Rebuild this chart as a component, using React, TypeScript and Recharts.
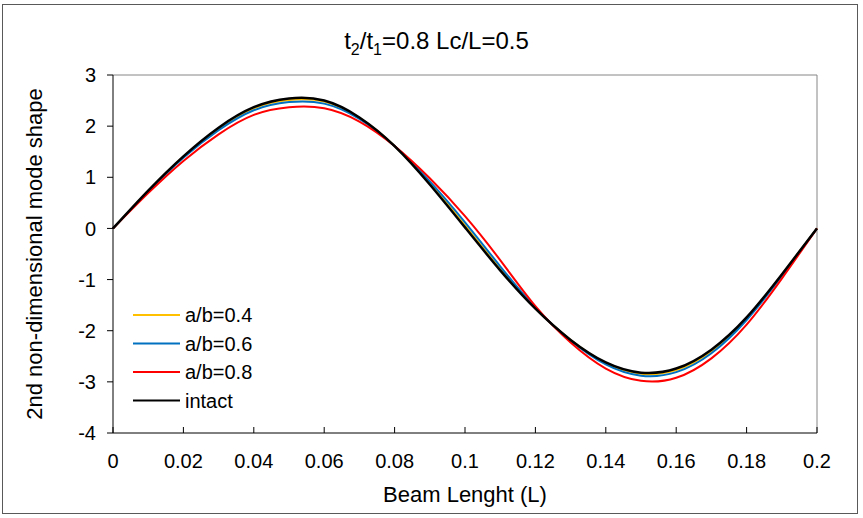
import React from "react";
import { LineChart, Line, XAxis, YAxis, ReferenceLine } from "recharts";

const beamX = [0, 0.01, 0.02, 0.03, 0.04, 0.05, 0.06, 0.07, 0.08, 0.09, 0.1, 0.11, 0.12, 0.13, 0.14, 0.15, 0.16, 0.17, 0.18, 0.19, 0.2];
const ab04 = [0, 0.73, 1.4, 1.95, 2.35, 2.51, 2.48, 2.16, 1.61, 0.89, 0.06, -0.79, -1.56, -2.18, -2.63, -2.84, -2.77, -2.4, -1.76, -0.91, 0];
const ab06 = [0, 0.72, 1.38, 1.92, 2.31, 2.47, 2.44, 2.14, 1.61, 0.92, 0.12, -0.74, -1.55, -2.19, -2.66, -2.88, -2.81, -2.44, -1.79, -0.93, 0];
const ab08 = [0, 0.69, 1.32, 1.84, 2.22, 2.37, 2.35, 2.09, 1.61, 0.98, 0.24, -0.62, -1.52, -2.23, -2.74, -2.98, -2.92, -2.54, -1.88, -0.98, 0];
const intact = [0, 0.74, 1.41, 1.97, 2.37, 2.54, 2.5, 2.17, 1.61, 0.86, 0.02, -0.82, -1.57, -2.18, -2.62, -2.82, -2.74, -2.37, -1.74, -0.9, 0];

const xTicks = [0, 0.02, 0.04, 0.06, 0.08, 0.1, 0.12, 0.14, 0.16, 0.18, 0.2];
const xTickLabels = ["0", "0.02", "0.04", "0.06", "0.08", "0.1", "0.12", "0.14", "0.16", "0.18", "0.2"];
const yTicks = [-4, -3, -2, -1, 0, 1, 2, 3];

const seriesDefs = [
  { key: "ab04", name: "a/b=0.4", color: "#FFC000", width: 2 },
  { key: "ab06", name: "a/b=0.6", color: "#0070C0", width: 2 },
  { key: "ab08", name: "a/b=0.8", color: "#FF0000", width: 2 },
  { key: "intact", name: "intact", color: "#000000", width: 2.5 },
];

const data = beamX.map((x, i) => ({ x, ab04: ab04[i], ab06: ab06[i], ab08: ab08[i], intact: intact[i] }));

const FONT = "'Liberation Sans', Arial, sans-serif";

const XTick = (props: any) => {
  const { x, y, payload } = props;
  const idx = xTicks.indexOf(payload.value);
  return (
    <g>
      <line x1={x} x2={x} y1={y - 6} y2={y} stroke="#000" strokeWidth={1} />
      <text x={x} y={y + 35} textAnchor="middle" fontSize={20} fill="#000" fontFamily={FONT}>
        {idx >= 0 ? xTickLabels[idx] : String(payload.value)}
      </text>
    </g>
  );
};

const LegendBox = () => (
  <svg width={160} height={120} style={{ position: "absolute", left: 130, top: 300, display: "block" }}>
    {seriesDefs.map((s, i) => (
      <g key={s.key}>
        <line x1={3} x2={50} y1={15 + i * 28.5} y2={15 + i * 28.5} stroke={s.color} strokeWidth={2} />
        <text x={55} y={22 + i * 28.5} fontSize={20} fontFamily={FONT} fill="#000">
          {s.name}
        </text>
      </g>
    ))}
  </svg>
);

export default function App() {
  return (
    <div style={{ position: "absolute", left: 0, top: 0, width: 863, height: 518, background: "#fff" }}>
      <div
        style={{
          position: "absolute",
          left: 2,
          top: 4,
          width: 856,
          height: 510,
          border: "1px solid #595959",
          boxSizing: "border-box",
        }}
      />
      <div
        style={{
          position: "absolute",
          left: 0,
          width: 873,
          top: 28,
          textAlign: "center",
          fontFamily: FONT,
          fontSize: 24,
          color: "#000",
          lineHeight: "26px",
        }}
      >
        t<sub style={{ fontSize: 16 }}>2</sub>/t<sub style={{ fontSize: 16 }}>1</sub>=0.8 Lc/L=0.5
      </div>
      <div style={{ position: "absolute", left: 0, top: 0 }}>
        <LineChart width={863} height={518} data={data} margin={{ top: 75, right: 46, bottom: 0, left: 0 }}>
          <XAxis
            dataKey="x"
            type="number"
            domain={[0, 0.2]}
            ticks={xTicks}
            interval={0}
            tickLine={false}
            tickSize={0}
            tickMargin={0}
            tick={<XTick />}
            axisLine={{ stroke: "#000", strokeWidth: 1 }}
            height={85}
            label={{ value: "Beam Lenght (L)", position: "insideBottom", offset: 16, fontSize: 22, fill: "#000", fontFamily: FONT }}
          />
          <YAxis
            type="number"
            domain={[-4, 3]}
            ticks={yTicks}
            interval={0}
            width={113}
            tickSize={6}
            tickMargin={11}
            tick={{ fontSize: 20, fill: "#000", fontFamily: FONT }}
            tickLine={{ stroke: "#000" }}
            axisLine={{ stroke: "#000", strokeWidth: 1 }}
            label={{
              value: "2nd non-dimensional mode shape",
              angle: -90,
              position: "insideLeft",
              offset: 34,
              fontSize: 22,
              fill: "#000",
              fontFamily: FONT,
              style: { textAnchor: "middle" },
            }}
          />
          <ReferenceLine y={3} stroke="#868686" strokeWidth={1} />
          <ReferenceLine x={0.2} stroke="#868686" strokeWidth={1} />
          {seriesDefs.map((s) => (
            <Line
              key={s.key}
              type="natural"
              dataKey={s.key}
              name={s.name}
              stroke={s.color}
              strokeWidth={s.width}
              dot={false}
              activeDot={false}
              isAnimationActive={false}
            />
          ))}
        </LineChart>
      </div>
      <LegendBox />
    </div>
  );
}
